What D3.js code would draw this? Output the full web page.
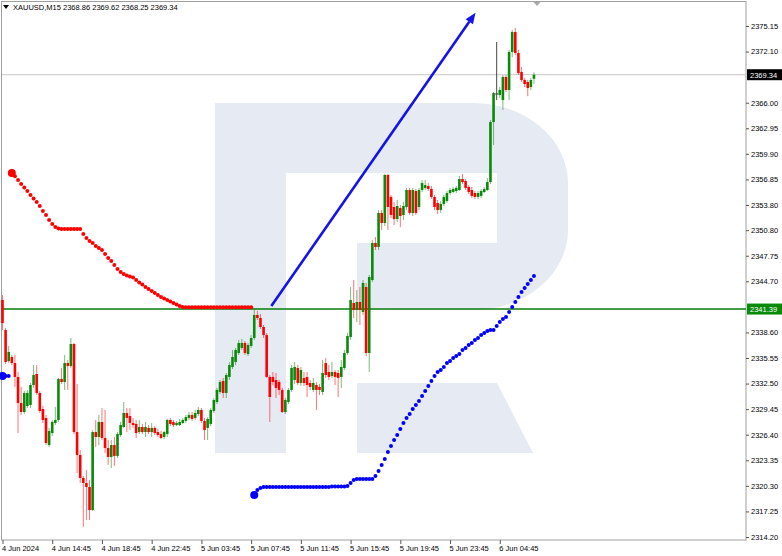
<!DOCTYPE html>
<html><head><meta charset="utf-8">
<script src="https://cdn.jsdelivr.net/npm/d3@7"></script>
<style>
body{margin:0;background:#fff;}
svg{display:block;}
text{font-family:"Liberation Sans",Arial,sans-serif;}
</style>
</head><body>
<svg id="c" width="782" height="556"></svg>
<script>
const symbol = "XAUUSD,M15";
const opens = [2342.47,2338.89,2335.19,2335.67,2334.95,2333.29,2330.18,2329.11,2329.83,2329.95,2332.33,2333.64,2331.38,2329.47,2328.40,2325.17,2326.60,2327.80,2328.16,2333.05,2332.69,2334.95,2334.59,2337.22,2326.72,2323.98,2321.24,2320.64,2320.17,2317.42,2326.72,2326.13,2327.92,2326.01,2324.82,2323.75,2325.17,2323.87,2326.36,2327.32,2328.99,2328.63,2327.80,2327.68,2326.72,2327.32,2326.72,2327.21,2326.72,2327.21,2326.72,2326.48,2326.13,2326.48,2328.16,2327.92,2327.56,2327.56,2327.80,2328.04,2328.40,2328.75,2328.40,2328.87,2329.35,2328.04,2327.21,2327.68,2329.23,2330.30,2331.50,2332.81,2331.38,2333.29,2334.48,2335.07,2336.15,2336.75,2337.34,2336.03,2336.99,2337.94,2340.68,2340.32,2339.25,2338.29,2333.29,2333.29,2332.93,2332.69,2331.74,2329.11,2330.30,2331.74,2332.93,2334.36,2332.57,2333.17,2333.29,2332.57,2331.74,2332.33,2332.10,2331.50,2334.95,2333.88,2333.40,2333.88,2333.76,2333.29,2334.36,2336.15,2338.06,2342.11,2341.28,2342.23,2341.04,2344.02,2336.15,2344.85,2349.27,2348.79,2352.85,2351.65,2357.38,2354.76,2353.56,2352.13,2353.44,2352.61,2353.56,2355.59,2352.85,2355.47,2353.56,2355.59,2355.83,2356.06,2355.71,2354.76,2354.04,2353.20,2353.92,2354.28,2355.23,2355.35,2355.47,2355.59,2356.90,2356.66,2355.95,2355.59,2355.23,2354.76,2354.88,2355.35,2355.59,2356.54,2363.70,2367.04,2366.92,2366.32,2369.07,2367.52,2372.05,2374.43,2371.93,2369.66,2368.71,2368.47,2367.87,2368.86];
const highs = [2343.06,2339.13,2336.99,2335.91,2335.91,2333.88,2332.10,2331.62,2331.74,2332.57,2334.71,2334.71,2331.62,2329.83,2328.75,2327.21,2328.16,2329.71,2333.17,2334.36,2335.91,2335.31,2337.94,2337.34,2332.45,2324.58,2321.48,2322.19,2321.00,2326.96,2328.16,2328.75,2329.59,2329.35,2325.77,2325.77,2326.13,2326.72,2327.92,2330.30,2329.59,2329.59,2328.40,2328.16,2328.16,2327.68,2327.92,2327.56,2327.80,2327.44,2327.08,2326.84,2326.84,2328.28,2328.40,2328.16,2328.04,2328.28,2328.40,2328.75,2329.11,2329.11,2329.35,2329.71,2329.59,2328.40,2328.51,2329.59,2330.78,2331.98,2332.93,2333.17,2333.76,2335.07,2336.51,2336.75,2337.70,2337.82,2337.58,2337.34,2338.29,2341.51,2341.16,2340.80,2339.49,2338.53,2333.52,2333.88,2333.76,2332.93,2331.98,2330.78,2331.98,2334.71,2335.07,2334.71,2334.48,2333.88,2333.88,2332.93,2333.17,2332.69,2332.45,2335.31,2335.55,2334.71,2335.07,2334.12,2334.12,2335.31,2336.51,2338.53,2344.02,2344.85,2343.66,2344.02,2344.85,2344.50,2345.45,2349.63,2349.98,2353.20,2353.20,2357.50,2357.50,2354.99,2354.16,2354.40,2353.80,2354.16,2355.83,2355.83,2355.83,2355.71,2355.83,2356.78,2356.78,2356.42,2356.06,2354.99,2354.40,2354.28,2354.99,2355.47,2355.83,2355.95,2356.06,2357.26,2357.50,2356.90,2356.18,2355.95,2355.47,2355.47,2355.71,2355.95,2357.02,2363.94,2367.28,2373.24,2367.87,2369.30,2369.30,2372.29,2374.67,2374.91,2372.29,2370.26,2368.95,2368.71,2368.95,2369.62];
const lows = [2338.89,2334.83,2334.95,2334.71,2332.10,2326.60,2328.75,2328.87,2329.59,2329.59,2331.98,2331.14,2328.99,2327.80,2325.17,2324.94,2326.24,2327.56,2327.92,2332.45,2331.74,2331.74,2334.36,2326.48,2321.83,2320.64,2315.40,2316.23,2316.23,2317.30,2324.94,2325.17,2325.77,2324.22,2322.79,2322.43,2322.67,2323.63,2326.13,2327.21,2326.72,2326.96,2327.21,2326.01,2326.48,2326.48,2326.13,2326.48,2326.13,2326.36,2326.13,2325.89,2325.89,2326.13,2327.44,2327.32,2327.44,2327.44,2327.68,2327.80,2328.16,2328.04,2328.16,2328.63,2327.80,2325.77,2325.77,2327.44,2328.99,2330.06,2331.26,2330.78,2330.78,2332.93,2334.24,2334.71,2335.91,2336.51,2335.91,2335.79,2336.75,2337.70,2340.08,2339.01,2337.94,2333.17,2327.92,2332.33,2330.78,2331.14,2328.99,2328.87,2330.06,2331.50,2332.45,2332.33,2332.21,2332.21,2330.90,2331.74,2331.50,2329.35,2331.14,2331.14,2333.17,2332.93,2333.17,2332.33,2330.90,2331.98,2334.12,2335.91,2337.70,2340.32,2339.84,2339.49,2340.68,2335.79,2333.88,2344.62,2348.43,2348.43,2350.82,2351.29,2350.82,2352.25,2351.41,2351.77,2351.17,2352.01,2353.20,2352.61,2352.49,2352.61,2353.20,2355.35,2355.59,2355.47,2354.52,2353.20,2352.73,2352.85,2353.68,2354.04,2354.99,2355.23,2355.23,2355.47,2356.30,2355.59,2355.11,2354.64,2354.52,2354.52,2354.64,2355.23,2355.47,2356.30,2360.96,2366.32,2366.56,2365.13,2367.28,2366.32,2371.45,2371.69,2369.30,2368.47,2367.87,2366.78,2367.52,2368.25];
const closes = [2339.72,2335.07,2336.27,2334.95,2333.29,2330.18,2329.11,2331.38,2331.38,2332.33,2333.52,2331.38,2329.23,2328.16,2325.41,2326.84,2327.92,2328.16,2333.05,2332.69,2334.95,2334.59,2337.22,2326.72,2323.98,2321.24,2320.64,2320.17,2317.42,2326.72,2326.13,2327.92,2326.01,2324.82,2323.75,2325.17,2323.87,2326.48,2327.56,2328.99,2328.40,2327.80,2327.56,2326.60,2327.32,2326.72,2327.32,2326.72,2327.21,2326.60,2326.36,2326.01,2326.72,2328.16,2327.68,2327.56,2327.80,2327.92,2328.16,2328.51,2328.75,2328.28,2328.99,2329.35,2328.04,2326.96,2328.28,2329.35,2330.54,2331.74,2332.69,2331.38,2333.52,2334.71,2335.67,2336.51,2337.34,2337.34,2336.15,2337.10,2337.94,2340.68,2340.32,2339.25,2338.29,2333.29,2330.90,2332.69,2331.98,2331.74,2329.11,2330.54,2331.74,2334.36,2334.48,2332.57,2334.12,2332.57,2332.33,2332.10,2332.57,2331.74,2331.74,2333.76,2333.52,2333.29,2333.88,2333.29,2333.17,2334.48,2336.15,2338.18,2342.47,2341.28,2342.23,2341.28,2344.50,2336.15,2345.21,2349.27,2348.79,2352.85,2351.65,2357.38,2353.56,2352.61,2352.13,2353.68,2352.49,2353.68,2355.59,2352.85,2355.59,2352.85,2355.59,2356.42,2356.18,2355.71,2354.76,2353.56,2353.20,2353.92,2354.76,2355.23,2355.59,2355.71,2355.83,2356.90,2356.54,2355.83,2355.35,2354.88,2354.76,2355.23,2355.47,2355.71,2356.54,2363.70,2367.16,2367.04,2367.52,2369.07,2367.52,2372.05,2374.43,2371.93,2369.54,2368.71,2368.23,2367.75,2368.71,2369.34];

// Parabolic SAR style dots
const sarBlueEarlyStart = 0;
const sarBlueEarly = [2333.41,2333.41,2333.41];
const sarRedStart = 3;
const sarRed = [2357.61,2357.22,2356.78,2356.30,2355.89,2355.47,2354.99,2354.57,2354.16,2353.68,2353.08,2352.61,2352.01,2351.53,2351.17,2350.99,
  2350.94,2350.94,2350.94,2350.94,2350.94,2350.94,2350.94,
  2350.34,2349.86,2349.51,2349.27,2348.91,2348.67,2348.43,2347.96,2347.48,2347.12,2346.65,2346.17,2345.81,2345.57,2345.39,2345.27,2345.15,2344.85,2344.55,2344.31,2344.02,2343.78,2343.54,2343.30,2343.06,2342.83,2342.65,2342.47,2342.29,2342.11,2341.93,2341.75,2341.63,
  2341.60,2341.60,2341.60,2341.60,2341.60,2341.60,2341.60,2341.60,2341.60,2341.60,2341.60,2341.60,2341.60,2341.60,2341.60,2341.60,2341.60,2341.60,2341.60,2341.60,2341.60,2341.60];
const sarBlueStart = 81;
const sarBlue = [2319.21,2319.81,2320.05,2320.17,
  2320.17,2320.17,2320.17,2320.17,2320.17,2320.17,2320.17,2320.17,2320.17,2320.17,2320.17,2320.17,2320.17,2320.17,2320.17,2320.17,2320.17,2320.17,2320.17,2320.17,2320.17,
  2320.23,2320.23,2320.23,2320.23,2320.23,
  2320.29,2320.64,2321.00,
  2321.12,2321.12,2321.12,2321.12,2321.12,2321.12,
  2321.48,2322.07,2322.79,2323.51,2324.34,2325.06,2325.77,2326.36,2327.08,2327.80,2328.40,2328.87,2329.47,2329.95,2330.42,2331.02,2331.62,2332.21,2332.81,2333.41,2333.88,2334.12,2334.48,2334.95,2335.19,2335.55,2335.79,2336.03,2336.51,2336.75,2337.10,2337.34,2337.70,2337.94,2338.29,2338.53,2338.77,2338.89,2338.89,2339.37,2339.84,2340.20,2340.44,2341.04,2341.63,2342.23,2342.83,2343.42,2343.90,2344.38,2344.85,2345.33];

const priceTicks = [2375.15,2372.10,2366.00,2362.95,2359.90,2356.85,2353.80,2350.80,2347.75,2344.70,2338.60,2335.55,2332.50,2329.45,2326.40,2323.35,2320.30,2317.25,2314.20];
const timeTickIdx = [0,16,32,48,64,80,96,112,128,144,160];
const timeTickLabels = ["4 Jun 2024","4 Jun 14:45","4 Jun 18:45","4 Jun 22:45","5 Jun 03:45","5 Jun 07:45","5 Jun 11:45","5 Jun 15:45","5 Jun 19:45","5 Jun 23:45","6 Jun 04:45"];
const levelPrice = 2341.39;
const arrowFrom = {i: 86.5, p: 2341.75};
const arrowTo = {i: 152.2, p: 2376.74};

const svg = d3.select('#c');
const N = opens.length;
const x = d3.scaleLinear().domain([0, N-1]).range([2.5, 2.5 + 3.108*(N-1)]);
const y = d3.scaleLinear().domain([2314.20, 2375.15]).range([537, 26]);
const bull = '#0a8a0a', bear = '#ff0000';

// watermark logo
const logo = svg.append('g').attr('fill', '#e5eaf3');
logo.append('rect').attr('x',215).attr('y',103).attr('width',71).attr('height',350);
logo.append('path').attr('d','M286,103 H473 A95,80 0 0 1 568,183 V230 A95,80 0 0 1 473,310 H357 V243 H497 V173 H286 Z');
logo.append('path').attr('d','M357,383 H497 L533,453 H357 Z');

// frame
svg.append('rect').attr('x',1.5).attr('y',1.5).attr('width',744.5).attr('height',538.5)
  .attr('fill','none').attr('stroke','#a0a0a0').attr('stroke-width',1);

// current price line
const last = N-1;
svg.append('line').attr('x1',2).attr('x2',746).attr('y1',y(closes[last])).attr('y2',y(closes[last]))
  .attr('stroke','#c8c8c8').attr('stroke-width',1);

// horizontal level
svg.append('line').attr('x1',2).attr('x2',746).attr('y1',y(levelPrice)).attr('y2',y(levelPrice))
  .attr('stroke','#0a7d0a').attr('stroke-width',1.6);

// candles
const bars = d3.range(N).map(i => ({i, o:opens[i], h:highs[i], l:lows[i], c:closes[i]}));
const col = d => d.c > d.o ? bull : (d.c < d.o ? bear : '#333');
const cg = svg.append('g');
cg.selectAll('line.w').data(bars).join('line').attr('class','w')
  .attr('x1', d => x(d.i)).attr('x2', d => x(d.i))
  .attr('y1', d => y(d.h)).attr('y2', d => y(d.l))
  .attr('stroke', col).attr('stroke-width', 1).attr('stroke-opacity', d => d.c===d.o ? 0.9 : 0.55);
cg.selectAll('rect.b').data(bars.filter(d => d.c !== d.o)).join('rect').attr('class','b')
  .attr('x', d => x(d.i) - 1.3).attr('width', 2.6)
  .attr('y', d => y(Math.max(d.o, d.c)))
  .attr('height', d => Math.max(1, Math.abs(y(d.o) - y(d.c))))
  .attr('fill', col);
cg.selectAll('line.dj').data(bars.filter(d => d.c === d.o)).join('line').attr('class','dj')
  .attr('x1', d => x(d.i) - 1.5).attr('x2', d => x(d.i) + 1.5)
  .attr('y1', d => y(d.o)).attr('y2', d => y(d.o)).attr('stroke','#333');

// SAR dots
function dots(start, vals, color) {
  const data = vals.map((v, k) => ({i: start + k, v, first: k === 0}));
  svg.append('g').selectAll('circle').data(data).join('circle')
    .attr('cx', d => x(d.i)).attr('cy', d => y(d.v))
    .attr('r', d => d.first ? 4 : 2).attr('fill', color);
}
dots(sarBlueEarlyStart, sarBlueEarly, '#0000ff');
dots(sarRedStart, sarRed, '#ff0000');
dots(sarBlueStart, sarBlue, '#0000ff');

// arrow
const ax1 = x(arrowFrom.i), ay1 = y(arrowFrom.p), ax2 = x(arrowTo.i), ay2 = y(arrowTo.p);
const ang = Math.atan2(ay2 - ay1, ax2 - ax1);
const hl = 11, hw = 4.5;
const bx = ax2 - hl*Math.cos(ang), by = ay2 - hl*Math.sin(ang);
svg.append('line').attr('x1', ax1).attr('y1', ay1).attr('x2', bx).attr('y2', by)
  .attr('stroke', '#1414e6').attr('stroke-width', 2.6);
svg.append('path').attr('d', d3.line()([
  [ax2, ay2],
  [bx + hw*Math.sin(ang), by - hw*Math.cos(ang)],
  [bx - hw*Math.sin(ang), by + hw*Math.cos(ang)]
]) + 'Z').attr('fill', '#1414e6');

// right price axis
const yAxis = d3.axisRight(y).tickValues(priceTicks).tickFormat(d3.format('.2f')).tickSize(3).tickPadding(2);
const gy = svg.append('g').attr('transform', 'translate(746,0)').call(yAxis);
gy.select('.domain').remove();
gy.selectAll('.tick line').attr('stroke', '#555');
gy.selectAll('.tick text').attr('font-size', '7.5px').attr('fill', '#000')
  .attr('font-family', '"Liberation Sans",Arial,sans-serif');

// bottom time axis
const xAxis = d3.axisBottom(x).tickValues(timeTickIdx).tickFormat((d, k) => timeTickLabels[k]).tickSize(4).tickPadding(2);
const gx = svg.append('g').attr('transform', 'translate(0,540)').call(xAxis);
gx.select('.domain').remove();
gx.selectAll('.tick line').attr('stroke', '#555');
gx.selectAll('.tick text').attr('font-size', '7.5px').attr('fill', '#000').attr('text-anchor', 'start')
  .attr('dx', '-1').attr('font-family', '"Liberation Sans",Arial,sans-serif');

// price labels
function priceLabel(p, bg) {
  const yy = y(p);
  svg.append('rect').attr('x', 747).attr('y', yy - 5.5).attr('width', 35).attr('height', 11).attr('fill', bg);
  svg.append('text').attr('x', 750).attr('y', yy + 3).attr('font-size', '7.5px').attr('fill', '#fff')
    .text(d3.format('.2f')(p));
}
priceLabel(closes[last], '#000');
priceLabel(levelPrice, '#0a8a0a');

// header
svg.append('path').attr('d', 'M3,5 L9,5 L6,9 Z').attr('fill', '#000');
svg.append('text').attr('x', 13).attr('y', 10).attr('font-size', '7.5px').attr('fill', '#000')
  .text(symbol + '  ' + [opens[last], highs[last], lows[last], closes[last]].map(d3.format('.2f')).join(' '));

// shift marker
svg.append('path').attr('d', 'M533.5,2 L540.5,2 L537,6 Z').attr('fill', '#a8a8a8');
</script>
</body></html>
